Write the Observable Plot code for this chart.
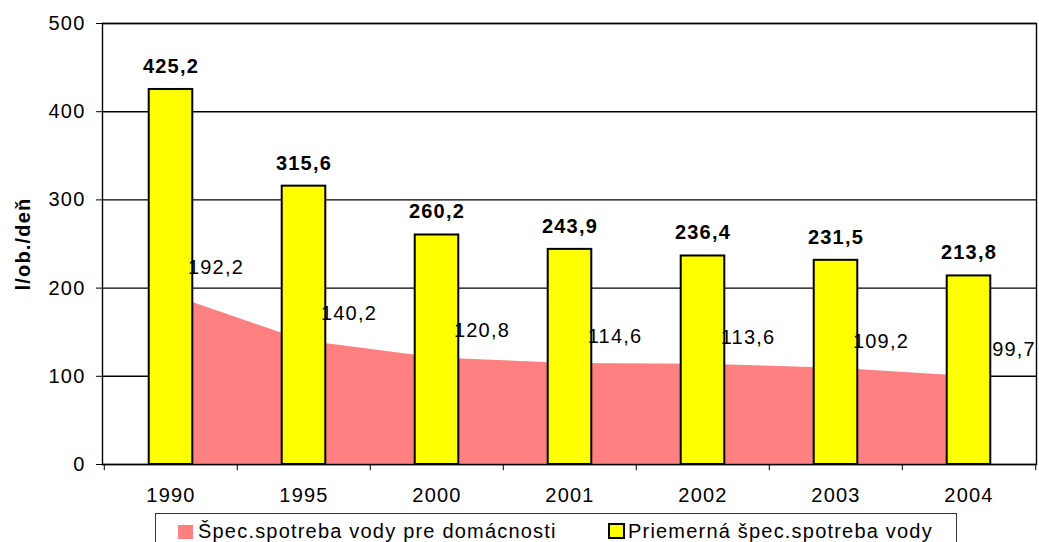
<!DOCTYPE html>
<html>
<head>
<meta charset="utf-8">
<script src="https://cdn.jsdelivr.net/npm/d3@7"></script>
<script src="https://cdn.jsdelivr.net/npm/@observablehq/plot@0.6"></script>
<style>
  html, body { margin: 0; padding: 0; background: #fff; overflow: hidden; }
  #wrap { position: relative; width: 1039px; height: 542px; font-family: "Liberation Sans", Arial, sans-serif; }
  #legend { position: absolute; left: 155px; top: 513px; width: 802px; height: 40px; border: 1px solid #333; box-sizing: border-box; }
  .item { position: absolute; top: 6px; font-size: 20px; letter-spacing: 1.2px; color: #000; white-space: nowrap; line-height: 22px; }
  .sw { display: inline-block; width: 15px; height: 14px; vertical-align: -1px; margin-right: 5px; box-sizing: border-box; }
</style>
</head>
<body>
<div id="wrap"></div>
<script>
const years = ["1990", "1995", "2000", "2001", "2002", "2003", "2004"];
const avgConsumption = [425.2, 315.6, 260.2, 243.9, 236.4, 231.5, 213.8];
const householdConsumption = [192.2, 140.2, 120.8, 114.6, 113.6, 109.2, 99.7];
const yTicks = [0, 100, 200, 300, 400, 500];
const yLabel = "l/ob./deň";
const seriesNames = ["Špec.spotreba vody pre domácnosti", "Priemerná špec.spotreba vody"];
const seriesColors = ["#FF8080", "#FFFF00"];

const fmt = v => v.toFixed(1).replace(".", ",");
const data = years.map((year, i) => ({year, avg: avgConsumption[i], house: householdConsumption[i]}));

const W = 1039, H = 510, mL = 102, mR = 3, mT = 23, mB = 46;
const step = (W - mL - mR) / years.length;
const barW = 44;
const inset = (step - barW) / 2;
const FS = 20;

const chart = Plot.plot({
  width: W, height: H,
  marginLeft: mL, marginRight: mR, marginTop: mT, marginBottom: mB,
  style: {fontFamily: '"Liberation Sans", Arial, sans-serif', fontSize: FS + "px", letterSpacing: "1.2px", color: "#000", background: "#fff", overflow: "visible"},
  x: {type: "band", domain: years, padding: 0},
  y: {domain: [0, 500]},
  marks: [
    Plot.ruleY(yTicks, {stroke: "#000", strokeWidth: 1.4}),
    Plot.areaY(data, {x: "year", y: "house", fill: seriesColors[0]}),
    Plot.barY(data, {x: "year", y: "avg", fill: seriesColors[1], stroke: "#000", strokeWidth: 2, insetLeft: inset, insetRight: inset}),
    Plot.text(data, {x: "year", y: "avg", text: d => fmt(d.avg), dy: -23, fontWeight: "bold", fontSize: FS}),
    Plot.text(data, {x: "year", y: "house", text: d => fmt(d.house), dx: 45, dy: -27, fontSize: FS}),
    Plot.frame({stroke: "#000", strokeWidth: 1.4}),
    Plot.ruleX(years, {x: d => d, y1: 0, y2: -7, dx: -step / 2, stroke: "#000"}),
    Plot.ruleX(years.slice(-1), {x: d => d, y1: 0, y2: -7, dx: step / 2, stroke: "#000"}),
    Plot.axisY(yTicks, {tickSize: 6, tickPadding: 11, label: null, tickFormat: d => String(d), fontSize: FS}),
    Plot.axisX({tickSize: 0, tickPadding: 23, label: null, fontSize: FS}),
    Plot.text([yLabel], {frameAnchor: "left", textAnchor: "middle", rotate: -90, dx: -79, fontWeight: "bold", fontSize: FS})
  ]
});

const wrap = document.getElementById("wrap");
wrap.appendChild(chart);

const legend = document.createElement("div");
legend.id = "legend";
const positions = [22, 452];
seriesNames.forEach((name, i) => {
  const it = document.createElement("div");
  it.className = "item";
  it.style.left = positions[i] + "px";
  const sw = document.createElement("span");
  sw.className = "sw";
  sw.style.background = seriesColors[i];
  if (i === 1) { sw.style.border = "2px solid #000"; sw.style.width = "17px"; sw.style.height = "16px"; sw.style.marginRight = "3px"; }
  it.appendChild(sw);
  it.appendChild(document.createTextNode(name));
  legend.appendChild(it);
});
wrap.appendChild(legend);
</script>
</body>
</html>
